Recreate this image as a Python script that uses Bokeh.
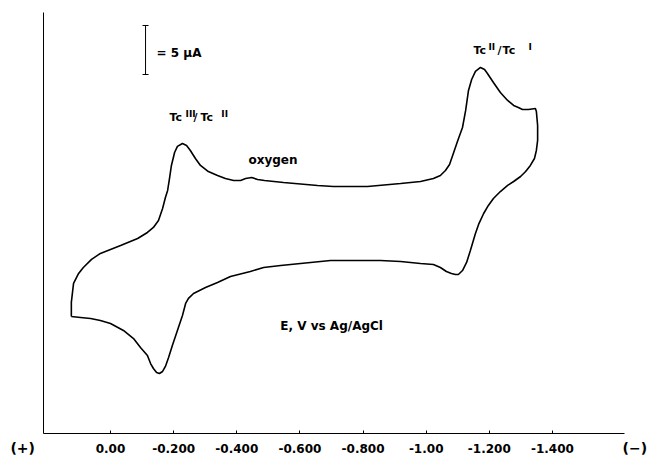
from bokeh.plotting import figure
from bokeh.models import Range1d, FixedTicker, Label, LinearAxis
from bokeh.embed import file_html
from bokeh.resources import INLINE

# ---- data ----
# potential E (V vs Ag/AgCl) and current (uA, arbitrary zero) along the sweep
potential_V = [
    0.124, 0.124, 0.117, 0.101, 0.086, 0.060, 0.032, 0.000, -0.032, -0.086,
    -0.117, -0.136, -0.152, -0.165, -0.174, -0.181, -0.187, -0.193, -0.203, -0.212,
    -0.228, -0.241, -0.253, -0.269, -0.285, -0.310, -0.339, -0.364, -0.390, -0.412,
    -0.428, -0.447, -0.466, -0.488, -0.548, -0.656, -0.706, -0.814, -0.919, -0.982,
    -1.023, -1.045, -1.061, -1.074, -1.086, -1.099, -1.115, -1.125, -1.134, -1.144,
    -1.156, -1.172, -1.185, -1.194, -1.213, -1.235, -1.258, -1.277, -1.292, -1.305,
    -1.324, -1.346,
    -1.349, -1.353, -1.353, -1.349, -1.343, -1.330, -1.315, -1.299, -1.277, -1.258,
    -1.235, -1.213, -1.197, -1.182, -1.166, -1.156, -1.140, -1.128, -1.115, -1.102,
    -1.093, -1.080, -1.064, -1.045, -1.023, -0.982, -0.919, -0.855, -0.760, -0.697,
    -0.602, -0.539, -0.485, -0.443, -0.380, -0.339, -0.301, -0.263, -0.247, -0.238,
    -0.228, -0.212, -0.196, -0.184, -0.174, -0.165, -0.155, -0.146, -0.136, -0.127,
    -0.117, -0.095, -0.073, -0.041, 0.000, 0.032, 0.063, 0.095, 0.124,
]
current_uA = [
    11.94, 13.37, 15.31, 16.33, 16.94, 17.76, 18.37, 18.78, 19.18, 19.90,
    20.51, 21.02, 21.73, 22.96, 24.08, 24.80, 26.02, 27.35, 28.67, 29.29,
    29.59, 29.39, 28.88, 28.06, 27.35, 26.73, 26.33, 26.02, 25.82, 25.82,
    26.02, 26.12, 25.92, 25.82, 25.61, 25.31, 25.20, 25.20, 25.51, 25.71,
    26.02, 26.33, 26.84, 27.45, 28.57, 29.80, 31.22, 32.96, 35.00, 36.12,
    36.94, 37.35, 37.14, 36.73, 35.82, 34.80, 33.98, 33.47, 33.27, 33.06,
    33.06, 33.16,
    32.86, 31.43, 29.90, 28.88, 28.06, 27.35, 26.73, 26.22, 25.71, 25.31,
    24.69, 23.98, 23.27, 22.45, 21.33, 20.41, 18.67, 17.45, 16.63, 16.22,
    16.22, 16.33, 16.53, 16.94, 17.24, 17.35, 17.55, 17.65, 17.65, 17.65,
    17.35, 17.14, 16.94, 16.53, 16.02, 15.41, 14.90, 14.29, 13.78, 13.27,
    12.04, 10.51, 8.98, 7.76, 6.84, 6.33, 6.12, 6.22, 6.63, 7.14,
    7.96, 8.78, 9.69, 10.51, 11.22, 11.53, 11.73, 11.84, 11.94,
]
x_ticks = [0.0, -0.2, -0.4, -0.6, -0.8, -1.0, -1.2, -1.4]
x_tick_labels = ["0.00", "-0.200", "-0.400", "-0.600", "-0.800", "-1.00", "-1.200", "-1.400"]
scale_bar_uA = 5

# axis extents (data units)
E_AXIS_START, E_AXIS_END = 0.2122, -1.628
I_AXIS_TOP = 42.96

FONT = "DejaVu Sans"

p = figure(width=648, height=458, output_backend="svg", toolbar_location=None,
           x_range=Range1d(0.3484, -1.7042), y_range=Range1d(-2.551, 44.18),
           x_axis_location=None, y_axis_location=None, min_border=0)
p.grid.visible = False
p.outline_line_color = None
p.background_fill_color = "white"
p.border_fill_color = "white"

# bottom axis, fixed at I = 0
xa = LinearAxis(fixed_location=0, bounds=(E_AXIS_END, E_AXIS_START),
                ticker=FixedTicker(ticks=x_ticks))
xa.major_label_overrides = dict(zip(x_ticks, x_tick_labels))
xa.major_tick_in = 3
xa.major_tick_out = 0
xa.minor_tick_line_color = None
xa.major_label_standoff = 11
xa.major_label_text_font = FONT
xa.major_label_text_font_size = "12px"
xa.major_label_text_font_style = "bold"
xa.major_label_text_color = "black"
xa.axis_line_color = "black"
p.add_layout(xa, "below")

# left axis: line only, fixed at E = start
ya = LinearAxis(fixed_location=E_AXIS_START, bounds=(0, I_AXIS_TOP),
                ticker=FixedTicker(ticks=[]))
ya.major_tick_line_color = None
ya.minor_tick_line_color = None
ya.major_label_text_font_size = "0px"
ya.axis_line_color = "black"
p.add_layout(ya, "left")

# CV curve
p.line(potential_V, current_uA, line_color="black", line_width=1.6)

# scale bar (5 uA)
sb_x = -0.111
sb_top = 41.63
p.segment(x0=[sb_x], y0=[sb_top], x1=[sb_x], y1=[sb_top - scale_bar_uA],
          line_color="black", line_width=1)
p.scatter([sb_x, sb_x], [sb_top, sb_top - scale_bar_uA], marker="dash",
          size=6, line_color="black", line_width=1)


def lab(x, y, text, size="11px", bold=True):
    p.add_layout(Label(x=x, y=y, text=text, text_font=FONT, text_font_size=size,
                       text_font_style="bold" if bold else "normal",
                       text_color="black", text_baseline="middle",
                       text_align="left"))


lab(-0.146, 38.78, "=  5  \u03bcA", size="12px")
# Tc(III)/Tc(II)
lab(-0.187, 32.24, "Tc")
lab(-0.238, 32.60, "III", size="9px")
lab(-0.263, 32.24, "/")
lab(-0.285, 32.24, "Tc")
lab(-0.351, 32.60, "II", size="9px")
lab(-0.437, 27.86, "oxygen", size="12px")
# Tc(II)/Tc(I)
lab(-1.150, 39.03, "Tc")
lab(-1.197, 39.39, "II", size="9px")
lab(-1.226, 39.03, "/")
lab(-1.242, 39.03, "Tc")
lab(-1.324, 39.39, "I", size="9px")
lab(-0.538, 10.92, "E, V vs Ag/AgCl", size="12px")
lab(0.3168, -1.53, "(+)", size="14px")
lab(-1.622, -1.53, "(\u2212)", size="14px")

open("out.html", "w").write(file_html(p, INLINE))
